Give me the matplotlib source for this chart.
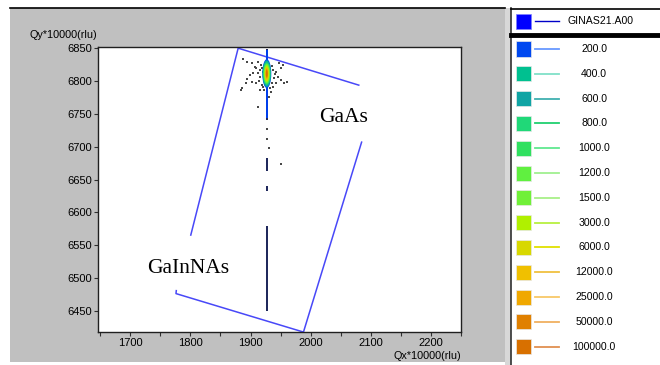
import matplotlib.pyplot as plt
from matplotlib.patches import Rectangle, Ellipse

# reciprocal space map, GaInNAs on GaAs
W, H = 660, 365

levels = [200, 400, 600, 800, 1000, 1200, 1500, 3000, 6000, 12000, 25000, 50000, 100000]
level_fill = ['#0048f0', '#00c090', '#10a4a4', '#20d878', '#30e060', '#60f040', '#70f038',
              '#b0f000', '#d8d800', '#f0c000', '#f0a800', '#e08000', '#d87000']
level_line = ['#6898ff', '#80e0c8', '#40b0b0', '#20d070', '#60e890', '#a0f090', '#a8f088',
              '#b8f040', '#e0e000', '#f0c040', '#f8c868', '#f0b060', '#e09050']

# contour extents around the substrate peak (half sizes in Qx, Qy)
peak_qx, peak_qy = 1927.0, 6811.0
half_qx = [7.5, 7.0, 6.5, 6.0, 5.5, 5.0, 4.5, 3.9, 3.3, 2.7, 2.1, 1.6, 1.1]
half_qy = [22, 20, 18.5, 17, 16, 15, 14, 12.5, 11, 9.5, 8, 6.5, 5]

# streak along Qy through the peak
streak_qx = 1927.0
streak_top = [6848, 6683, 6640, 6580]
streak_bot = [6740, 6663, 6632, 6450]

# low-count speckle
speck_qx = [1888.1, 1894.6, 1901.6, 1912.5, 1917.9, 1908.7, 1915.2, 1912.5, 1904.3, 1898.9,
            1893.5, 1892.4, 1885.4, 1901.6, 1909.8, 1915.2, 1920.6, 1936.9, 1942.3, 1947.7,
            1954.2, 1950.4, 1945.0, 1950.4, 1955.8, 1961.3, 1942.3, 1936.9, 1934.2, 1931.4,
            1912.5, 1907.1, 1923.3, 1932.5, 1920.6, 1883.7, 1927.1, 1931.5, 1950.4, 1927.0,
            1916.0, 1938.5, 1918.5, 1936.0, 1914.0, 1940.0, 1919.5, 1935.0, 1922.0, 1933.0]
speck_qy = [6832.8, 6829.2, 6826.7, 6829.2, 6824.2, 6819.1, 6816.6, 6811.5, 6812.5, 6809.0,
            6802.4, 6796.3, 6788.7, 6798.8, 6796.3, 6786.1, 6791.2, 6816.6, 6814.0, 6826.7,
            6824.2, 6819.1, 6806.4, 6801.4, 6797.3, 6798.8, 6796.3, 6791.2, 6783.6, 6776.0,
            6760.8, 6821.6, 6806.4, 6809.0, 6814.0, 6786.1, 6711.1, 6697.4, 6673.6, 6727.0,
            6806.0, 6805.0, 6820.0, 6822.0, 6800.0, 6810.0, 6794.0, 6796.0, 6786.0, 6789.0]

# scan boundary lines
edge_a_qx = [2080.0, 1879.4, 1800.6]
edge_a_qy = [6793.5, 6849.7, 6565.5]
edge_b_qx = [1776.5, 1776.0, 1988.0, 2084.7]
edge_b_qy = [6481.0, 6476.5, 6418.0, 6706.8]

labels = [("GaAs", 2055.5, 6744.8), ("GaInNAs", 1795.8, 6515.3)]

xticks = [1700, 1800, 1900, 2000, 2100, 2200]
yticks = [6450, 6500, 6550, 6600, 6650, 6700, 6750, 6800, 6850]


def fx(x):
    return x / W


def fy(y):
    return 1 - y / H


fig = plt.figure(figsize=(6.6, 3.65), dpi=100)
fig.patch.set_facecolor('white')

# window panels (kept behind the axes)
fig.add_artist(Rectangle((fx(10), fy(362)), fx(495), 354 / H, transform=fig.transFigure,
                         facecolor='#c0c0c0', edgecolor='none', zorder=-5))
fig.add_artist(plt.Line2D([fx(10), fx(505)], [fy(8), fy(8)], transform=fig.transFigure,
                          color='black', lw=1.2, zorder=-4))
fig.add_artist(Rectangle((fx(505), 0), fx(6), fy(8), transform=fig.transFigure,
                         facecolor='#d8d8d8', edgecolor='none', zorder=-5))
fig.add_artist(plt.Line2D([fx(511), fx(511)], [0, fy(8)], transform=fig.transFigure,
                          color='#303030', lw=1.2, zorder=-4))
fig.add_artist(plt.Line2D([fx(511), fx(660)], [fy(8.5), fy(8.5)], transform=fig.transFigure,
                          color='black', lw=1.2, zorder=-4))
fig.add_artist(plt.Line2D([fx(511), fx(660)], [fy(34.5), fy(34.5)], transform=fig.transFigure,
                          color='black', lw=3.5, zorder=-4))

ax = fig.add_axes([fx(98), fy(332), fx(461) - fx(98), fy(47) - fy(332)])
ax.set_zorder(2)
ax.set_facecolor('white')

for top, bot in zip(streak_top, streak_bot):
    ax.plot([streak_qx, streak_qx], [bot, top], color='#1a2458', lw=1.4,
            solid_capstyle='butt', zorder=2)
ax.plot([streak_qx, streak_qx], [6745, 6846], color='#0040f0', lw=1.4, zorder=2.5)
ax.scatter(speck_qx, speck_qy, s=2, color='#484848', marker='s', linewidths=0, zorder=2)

for lv, c, hw, hh in zip(levels, level_fill, half_qx, half_qy):
    ax.add_patch(Ellipse((peak_qx, peak_qy), 2 * hw, 2 * hh, facecolor=c,
                         edgecolor='none', zorder=3))

ax.plot(edge_a_qx, edge_a_qy, color='#4848f8', lw=1.1)
ax.plot(edge_b_qx, edge_b_qy, color='#4848f8', lw=1.1)

for txt, x, y in labels:
    ax.text(x, y, txt, family='Liberation Serif', fontsize=15.5, ha='center', va='center')

ax.set_xlim(1646.3, 2236.6)
ax.set_ylim(6418.1, 6851.5)
ax.set_xticks(xticks)
ax.set_xticks([t + 50 for t in [1600] + xticks], minor=True)
ax.set_yticks(yticks)
ax.tick_params(axis='both', which='both', direction='out', length=3, width=0.8,
               color='#303030', labelsize=8, pad=1.5)
for lab in ax.get_xticklabels() + ax.get_yticklabels():
    lab.set_family('Liberation Sans')
for sp in ax.spines.values():
    sp.set_color('#202020')
    sp.set_linewidth(1.0)

fig.text(fx(30), fy(35), "Qy*10000(rlu)", family='Liberation Sans', fontsize=7.8,
         ha='left', va='center')
fig.text(fx(461), fy(356), "Qx*10000(rlu)", family='Liberation Sans', fontsize=7.8,
         ha='right', va='center')

# legend panel
fig.add_artist(Rectangle((fx(516), fy(28.5)), fx(15), 15 / H, transform=fig.transFigure,
                         facecolor='#0000ff', edgecolor='#8080ff', lw=0.5))
fig.add_artist(plt.Line2D([fx(535), fx(559)], [fy(21), fy(21)], transform=fig.transFigure,
                          color='#0000c8', lw=1.0))
fig.text(fx(600), fy(21), "GINAS21.A00", family='Liberation Sans', fontsize=7.6,
         ha='center', va='center')

for i, (lv, fc, lc) in enumerate(zip(levels, level_fill, level_line)):
    yc = 49 + i * 24.8
    fig.add_artist(Rectangle((fx(516), fy(yc + 7.5)), fx(15), 15 / H,
                             transform=fig.transFigure, facecolor=fc,
                             edgecolor='#e8e8e8', lw=0.5))
    fig.add_artist(plt.Line2D([fx(535), fx(559)], [fy(yc), fy(yc)],
                              transform=fig.transFigure, color=lc, lw=1.3))
    fig.text(fx(594), fy(yc), f"{lv:.1f}", family='Liberation Sans', fontsize=7.6,
             ha='center', va='center')

fig.savefig("out.png", dpi=100)
